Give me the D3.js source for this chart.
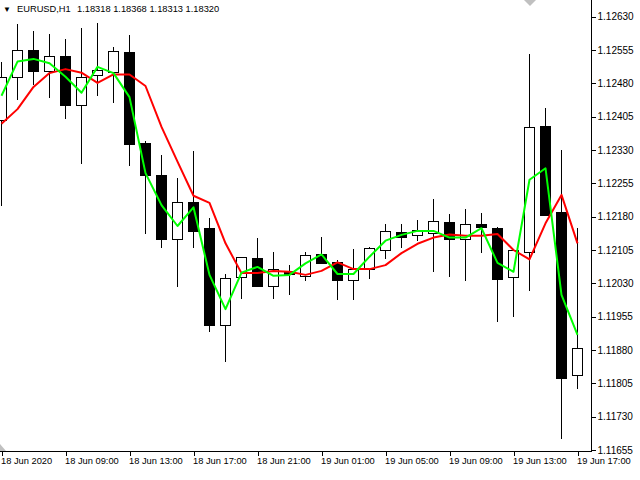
<!DOCTYPE html>
<html>
<head>
<meta charset="utf-8">
<script src="https://cdn.jsdelivr.net/npm/d3@7"></script>
<style>
  html, body { margin: 0; padding: 0; background: #fff; }
  svg { display: block; }
  text { font-family: "Liberation Sans", Arial, sans-serif; fill: #000; }
</style>
</head>
<body>
<svg id="chart" width="640" height="480"></svg>
<script>
const symbolTitle = "EURUSD,H1";
const titleValues = "1.18318 1.18368 1.18313 1.18320";

const times = [
  "2020-06-18T05:00Z","2020-06-18T06:00Z","2020-06-18T07:00Z","2020-06-18T08:00Z","2020-06-18T09:00Z",
  "2020-06-18T10:00Z","2020-06-18T11:00Z","2020-06-18T12:00Z","2020-06-18T13:00Z","2020-06-18T14:00Z",
  "2020-06-18T15:00Z","2020-06-18T16:00Z","2020-06-18T17:00Z","2020-06-18T18:00Z","2020-06-18T19:00Z",
  "2020-06-18T20:00Z","2020-06-18T21:00Z","2020-06-18T22:00Z","2020-06-18T23:00Z","2020-06-19T00:00Z",
  "2020-06-19T01:00Z","2020-06-19T02:00Z","2020-06-19T03:00Z","2020-06-19T04:00Z","2020-06-19T05:00Z",
  "2020-06-19T06:00Z","2020-06-19T07:00Z","2020-06-19T08:00Z","2020-06-19T09:00Z","2020-06-19T10:00Z",
  "2020-06-19T11:00Z","2020-06-19T12:00Z","2020-06-19T13:00Z","2020-06-19T14:00Z","2020-06-19T15:00Z",
  "2020-06-19T16:00Z","2020-06-19T17:00Z"
];
const open  = [1.12398,1.12495,1.12555,1.12508,1.12542,1.12432,1.12498,1.12506,1.12551,1.12346,1.12274,1.12129,1.12213,1.12155,1.11936,1.12044,1.12087,1.12025,1.12058,1.12047,1.12096,1.12079,1.12038,1.12062,1.12105,1.12146,1.12138,1.12143,1.12167,1.12130,1.12164,1.12155,1.12044,1.12101,1.12384,1.12191,1.11823];
const high  = [1.12528,1.12614,1.12598,1.12591,1.12580,1.12605,1.12616,1.12562,1.12589,1.12351,1.12319,1.12268,1.12328,1.12176,1.12051,1.12089,1.12133,1.12101,1.12071,1.12100,1.12134,1.12083,1.12107,1.12112,1.12164,1.12164,1.12173,1.12220,1.12186,1.12197,1.12188,1.12157,1.12105,1.12546,1.12425,1.12330,1.12155];
const low   = [1.12206,1.12445,1.12479,1.12450,1.12403,1.12301,1.12454,1.12439,1.12296,1.12143,1.12112,1.12025,1.12112,1.11923,1.11855,1.11996,1.12023,1.11998,1.12006,1.12038,1.12075,1.11994,1.11994,1.12043,1.12086,1.12112,1.12128,1.12058,1.12047,1.12038,1.12101,1.11946,1.11957,1.12015,1.12184,1.11683,1.11794];
const close = [1.12494,1.12555,1.12508,1.12542,1.12432,1.12494,1.12510,1.12552,1.12344,1.12274,1.12129,1.12213,1.12148,1.11936,1.12041,1.12089,1.12025,1.12062,1.12051,1.12094,1.12076,1.12038,1.12062,1.12109,1.12148,1.12134,1.12150,1.12170,1.12130,1.12164,1.12157,1.12040,1.12105,1.12381,1.12184,1.11818,1.11885];
const maRed   = [1.12389,1.12422,1.12472,1.12503,1.12512,1.12504,1.12481,1.12500,1.12500,1.12474,1.12382,1.12304,1.12227,1.12211,1.12120,1.12053,1.12053,1.12058,1.12056,1.12049,1.12058,1.12077,1.12062,1.12062,1.12071,1.12098,1.12119,1.12133,1.12140,1.12137,1.12137,1.12141,1.12105,1.12084,1.12165,1.12229,1.12120];
const maGreen = [1.12452,1.12529,1.12535,1.12525,1.12495,1.12459,1.12517,1.12503,1.12449,1.12278,1.12206,1.12159,1.12201,1.12049,1.11972,1.12054,1.12067,1.12047,1.12049,1.12075,1.12095,1.12051,1.12051,1.12090,1.12126,1.12139,1.12148,1.12148,1.12133,1.12133,1.12154,1.12076,1.12056,1.12263,1.12289,1.12004,1.11914];

const priceTicks = [1.11655,1.11730,1.11805,1.11880,1.11955,1.12030,1.12105,1.12180,1.12255,1.12330,1.12405,1.12480,1.12555,1.12630];
const timeTicks = ["2020-06-18T05:00Z","2020-06-18T09:00Z","2020-06-18T13:00Z","2020-06-18T17:00Z","2020-06-18T21:00Z","2020-06-19T01:00Z","2020-06-19T05:00Z","2020-06-19T09:00Z","2020-06-19T13:00Z","2020-06-19T17:00Z"];
const timeTickLabels = ["18 Jun 2020","18 Jun 09:00","18 Jun 13:00","18 Jun 17:00","18 Jun 21:00","19 Jun 01:00","19 Jun 05:00","19 Jun 09:00","19 Jun 13:00","19 Jun 17:00"];

const svg = d3.select("#chart");
const plotRight = 591, plotBottom = 451;

const tParse = s => new Date(s);
const bars = times.map((t, i) => ({ t: tParse(t), o: open[i], h: high[i], l: low[i], c: close[i], r: maRed[i], g: maGreen[i] }));

const x = d3.scaleUtc().domain([tParse(times[0]), tParse(times[times.length - 1])]).range([1, 577]);
const y = d3.scaleLinear().domain([1.11655, 1.12630]).range([450, 16.67]);

svg.append("defs").append("clipPath").attr("id", "clip")
  .append("rect").attr("x", 0).attr("y", 0).attr("width", plotRight).attr("height", plotBottom);

const plot = svg.append("g").attr("clip-path", "url(#clip)");

// candles
const cg = plot.append("g");
bars.forEach(b => {
  const cx = Math.round(x(b.t));
  cg.append("line")
    .attr("x1", cx + 0.5).attr("x2", cx + 0.5)
    .attr("y1", Math.round(y(b.h))).attr("y2", Math.round(y(b.l)) + 1)
    .attr("stroke", "#000").attr("stroke-width", 1).attr("shape-rendering", "crispEdges");
  const top = Math.round(y(Math.max(b.o, b.c)));
  const bot = Math.round(y(Math.min(b.o, b.c)));
  const bull = b.c >= b.o;
  cg.append("rect")
    .attr("x", cx - 4.5).attr("y", top + 0.5)
    .attr("width", 10).attr("height", Math.max(bot - top, 0))
    .attr("fill", bull ? "#fff" : "#000")
    .attr("stroke", "#000").attr("stroke-width", 1).attr("shape-rendering", "crispEdges");
});

// indicator lines
const line = key => d3.line().x(b => x(b.t) + 0.5).y(b => y(b[key]));
plot.append("path").datum(bars).attr("d", line("r"))
  .attr("fill", "none").attr("stroke", "#ff0000").attr("stroke-width", 2).attr("stroke-linejoin", "round");
plot.append("path").datum(bars).attr("d", line("g"))
  .attr("fill", "none").attr("stroke", "#00ff00").attr("stroke-width", 2).attr("stroke-linejoin", "round");

// frame lines
svg.append("line").attr("x1", plotRight + 0.5).attr("x2", plotRight + 0.5).attr("y1", 0).attr("y2", plotBottom + 1)
  .attr("stroke", "#000").attr("shape-rendering", "crispEdges");
svg.append("line").attr("x1", 0).attr("x2", plotRight + 1).attr("y1", plotBottom + 0.5).attr("y2", plotBottom + 0.5)
  .attr("stroke", "#000").attr("shape-rendering", "crispEdges");

// right price axis
const yAxis = d3.axisRight(y).tickValues(priceTicks).tickFormat(d3.format(".5f")).tickSize(4).tickPadding(2);
const ya = svg.append("g").attr("transform", `translate(${plotRight + 0.5},0)`).call(yAxis);
ya.select(".domain").remove();
ya.selectAll(".tick line").attr("stroke", "#000").attr("shape-rendering", "crispEdges");
ya.selectAll(".tick text").attr("font-size", "10px").attr("font-family", "Liberation Sans, Arial, sans-serif").attr("fill", "#000");

// bottom time axis
const xAxis = d3.axisBottom(x).tickValues(timeTicks.map(tParse))
  .tickFormat((d, i) => timeTickLabels[i]).tickSize(4).tickPadding(2);
const xa = svg.append("g").attr("transform", `translate(0.5,${plotBottom + 0.5})`).call(xAxis);
xa.select(".domain").remove();
xa.selectAll(".tick line").attr("stroke", "#000").attr("shape-rendering", "crispEdges");
xa.selectAll(".tick text").attr("font-size", "9.3px").attr("text-anchor", "start")
  .attr("font-family", "Liberation Sans, Arial, sans-serif").attr("fill", "#000").attr("dx", "-1px");

// title
svg.append("text").attr("x", 3).attr("y", 12).attr("font-size", "8px").text("▼");
svg.append("text").attr("x", 17).attr("y", 12).attr("font-size", "9.3px").text(symbolTitle);
svg.append("text").attr("x", 77).attr("y", 12).attr("font-size", "9.3px").text(titleValues);

// small gray markers
svg.append("path").attr("d", "M524,0 L536,0 L530,6 Z").attr("fill", "#c0c0c0");
svg.append("path").attr("d", "M0,444 L0,451 L6,451 Z").attr("fill", "#c0c0c0");
</script>
</body>
</html>
